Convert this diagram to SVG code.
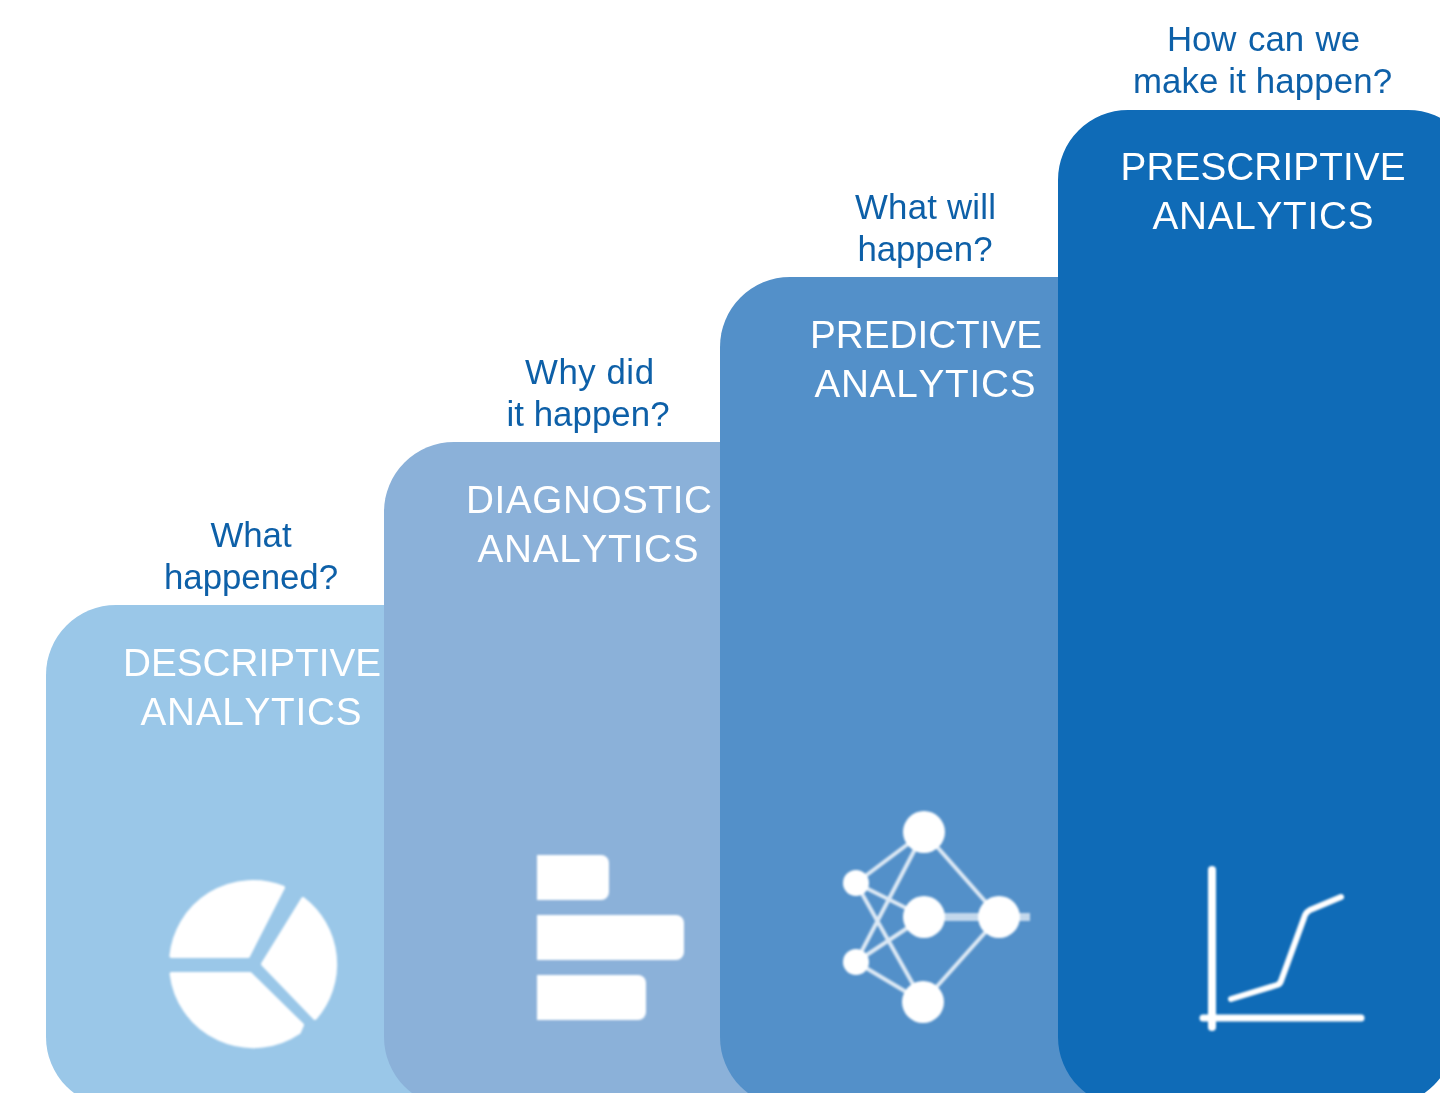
<svg xmlns="http://www.w3.org/2000/svg" width="1440" height="1093" viewBox="0 0 1440 1093">
<defs>
<filter id="soft" x="-10%" y="-10%" width="120%" height="120%"><feGaussianBlur stdDeviation="0.9"/></filter>
<filter id="softtext" x="-5%" y="-20%" width="110%" height="140%"><feGaussianBlur stdDeviation="0.35"/></filter>
</defs>
<style>
text{font-family:"Liberation Sans",Arial,Helvetica,sans-serif;text-anchor:middle;font-kerning:none;filter:url(#softtext)}
.q{font-size:34.8px;fill:#1160a8}
.t{font-size:38.7px;fill:#fff}
.icon{filter:url(#soft)}
.solid{fill:#fff;stroke:#fff;stroke-width:4;stroke-linejoin:round}
.wire{stroke:#fff;stroke-width:4;opacity:.8;fill:none}
.line{stroke:#fff;fill:none;stroke-linejoin:round;stroke-linecap:round}
</style>
<rect width="1440" height="1093" fill="#fff"/>
<g id="descriptive">
<rect x="46" y="605" width="420" height="502" rx="70" fill="#9ac7e8"/>
<text class="q" x="251" y="547">What</text>
<text class="q" x="251" y="589" textLength="174">happened?</text>
<text class="t" x="252" y="676" textLength="258">DESCRIPTIVE</text>
<text class="t" x="251" y="725" textLength="221">ANALYTICS</text>
<g class="icon">
<path class="solid" d="M171.4 956A82 82 0 0 1 283 887.7L248 956Z"/>
<path class="solid" d="M303 899A82 82 0 0 1 315 1018L263 964Z"/>
<path class="solid" d="M171.6 974L250 974L302 1025L299 1032A82 82 0 0 1 171.6 974Z"/>
</g>
</g>
<g id="diagnostic">
<rect x="384" y="442" width="420" height="665" rx="70" fill="#8bb1d9"/>
<text class="q" x="589.500" y="384" textLength="129">Why did</text>
<text class="q" x="588" y="426" textLength="163">it happen?</text>
<text class="t" x="589" y="513" textLength="246">DIAGNOSTIC</text>
<text class="t" x="588" y="562" textLength="221">ANALYTICS</text>
<g class="icon" fill="#fff">
<path d="M537 855H601a8 8 0 0 1 8 8V892a8 8 0 0 1 -8 8H537Z"/>
<path d="M537 915H676a8 8 0 0 1 8 8V952a8 8 0 0 1 -8 8H537Z"/>
<path d="M537 975H638a8 8 0 0 1 8 8V1012a8 8 0 0 1 -8 8H537Z"/>
</g>
</g>
<g id="predictive">
<rect x="720" y="277" width="420" height="830" rx="70" fill="#5390c9"/>
<text class="q" x="925.500" y="219" textLength="141">What will</text>
<text class="q" x="925" y="261" textLength="135">happen?</text>
<text class="t" x="926" y="348" textLength="232">PREDICTIVE</text>
<text class="t" x="925" y="397" textLength="221">ANALYTICS</text>
<g class="icon">
<path class="wire" d="M856 883L924 832M856 883L924 917M856 883L923 1002M856 962L924 832M856 962L924 917M856 962L923 1002M924 832L999 917M923 1002L999 917"/>
<path d="M924 917H1030" stroke="#fff" stroke-width="8" opacity=".65"/>
<g fill="#fff">
<circle cx="924" cy="832" r="21"/><circle cx="924" cy="917" r="21"/><circle cx="999" cy="917" r="21"/><circle cx="923" cy="1002" r="21"/><circle cx="856" cy="883" r="13"/><circle cx="856" cy="962" r="13"/>
</g>
</g>
</g>
<g id="prescriptive">
<path d="M1128 110H1408A70 70 0 0 1 1478 180L1456 1032A75 75 0 0 1 1381 1107H1128A70 70 0 0 1 1058 1037V180A70 70 0 0 1 1128 110Z" fill="#0f6bb7"/>
<text class="q" x="1263.500" y="51" textLength="193" word-spacing="2">How can we</text>
<text class="q" x="1262.500" y="93" textLength="259">make it happen?</text>
<text class="t" x="1263" y="179.500" textLength="285">PRESCRIPTIVE</text>
<text class="t" x="1263" y="228.500" textLength="221">ANALYTICS</text>
<g class="icon">
<path class="line" stroke-width="8" d="M1212 870V1027"/>
<path class="line" stroke-width="7" d="M1203 1018H1361"/>
<path class="line" stroke-width="6" d="M1231 999L1277 985Q1280 984 1281 981L1304 918Q1305 913 1310 910L1341 897"/>
</g>
</g>
</svg>
